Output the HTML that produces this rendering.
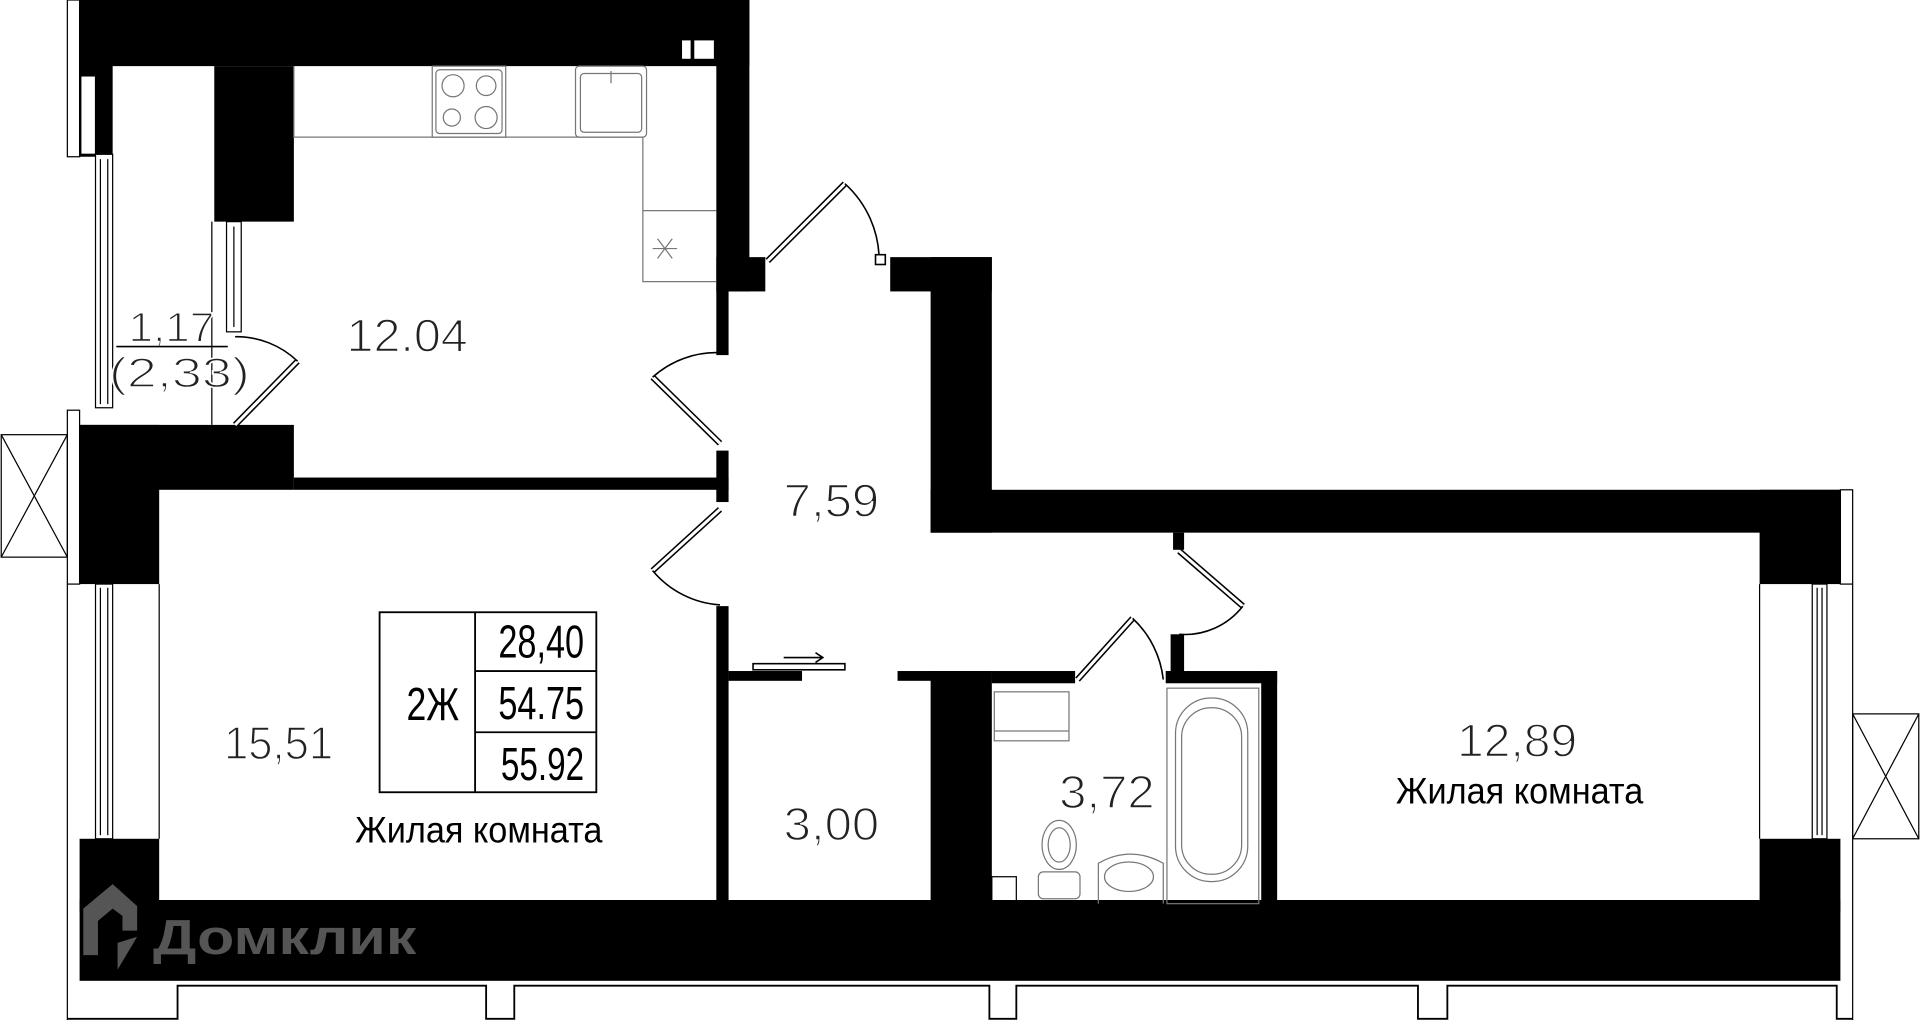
<!DOCTYPE html>
<html><head><meta charset="utf-8"><style>
html,body{margin:0;padding:0;background:#fff;width:1920px;height:1020px;overflow:hidden}
svg{display:block}
text{font-family:"Liberation Sans","DejaVu Sans",sans-serif}
</style></head><body>
<svg width="1920" height="1020" viewBox="0 0 1568 833" preserveAspectRatio="none" xmlns="http://www.w3.org/2000/svg">
<rect width="1568" height="833" fill="#fff"/>
<g fill="#000">
<rect x="65" y="0" width="547" height="54"/>
<rect x="65" y="0" width="27" height="128"/>
<rect x="175" y="54" width="65" height="127"/>
<rect x="585" y="0" width="27" height="238"/>
<rect x="585" y="210" width="40" height="28"/>
<rect x="585" y="238" width="10" height="52"/>
<rect x="65" y="347" width="175" height="53"/>
<rect x="65" y="347" width="65" height="130"/>
<rect x="240" y="390" width="355" height="10"/>
<rect x="585" y="368" width="10" height="42"/>
<rect x="585" y="495" width="10" height="240"/>
<rect x="65" y="685" width="65" height="60"/>
<rect x="65" y="735" width="1438" height="66"/>
<rect x="727" y="210" width="83" height="28"/>
<rect x="760" y="210" width="50" height="225"/>
<rect x="760" y="400" width="743" height="35"/>
<rect x="1437" y="400" width="66" height="77"/>
<rect x="1437" y="685" width="66" height="60"/>
<rect x="595" y="548" width="60" height="8"/>
<rect x="733" y="548" width="77" height="8"/>
<rect x="760" y="548" width="50" height="190"/>
<rect x="810" y="548" width="68" height="10"/>
<rect x="952" y="548" width="91" height="10"/>
<rect x="1030" y="548" width="13" height="190"/>
<rect x="956" y="518" width="11" height="32"/>
<rect x="958" y="435" width="9" height="14"/>
</g>
<rect x="557" y="33" width="7" height="15" fill="#fff"/><rect x="567" y="33" width="16" height="15" fill="#fff"/>
<g fill="#fff" stroke="#000" stroke-width="1">
<rect x="55" y="0" width="10" height="128"/>
<rect x="66" y="62" width="12" height="64"/>
<rect x="78" y="126" width="14" height="207"/>
<rect x="55" y="335" width="10" height="142"/>
<rect x="78" y="477" width="14" height="208"/>
<rect x="1503" y="400" width="10" height="77"/>
<rect x="1480" y="477" width="12" height="208"/>
<rect x="185" y="181" width="12" height="90"/>
</g>
<g stroke="#000" stroke-width="1" fill="none">
<line x1="55" y1="477" x2="55" y2="833"/><line x1="130" y1="477" x2="130" y2="685"/>
<line x1="82" y1="130" x2="82" y2="330"/><line x1="88" y1="130" x2="88" y2="330"/>
<line x1="82" y1="480" x2="82" y2="682"/><line x1="88" y1="480" x2="88" y2="682"/>
<line x1="1484" y1="480" x2="1484" y2="682"/><line x1="1488" y1="480" x2="1488" y2="682"/>
<line x1="1437" y1="477" x2="1437" y2="685"/><line x1="1513" y1="477" x2="1513" y2="833"/>
<line x1="173" y1="181" x2="173" y2="347"/><line x1="191" y1="185" x2="191" y2="267"/>
<rect x="1" y="355" width="54" height="100"/><line x1="1" y1="355" x2="55" y2="455"/><line x1="55" y1="355" x2="1" y2="455"/>
<rect x="1513" y="583" width="54" height="102"/><line x1="1513" y1="583" x2="1567" y2="685"/><line x1="1567" y1="583" x2="1513" y2="685"/>
<path d="M55 832 H145 V805 H397 V832 H420 V805 H808 V832 H830 V805 H1158 V832 H1182 V805 H1500 V832 H1513" stroke-width="1.5"/>
</g>
<g stroke="#777" stroke-width="1" fill="none">
<path d="M240 54 V112 H525 V230 H585"/>
<line x1="525" y1="172" x2="585" y2="172"/>
<rect x="353" y="54" width="60" height="58"/>
<rect x="356" y="57" width="54" height="52" rx="3"/>
<circle cx="370" cy="70" r="9"/><circle cx="397" cy="70" r="8"/><circle cx="369" cy="96" r="7"/><circle cx="397" cy="96" r="9"/>
<rect x="470" y="54" width="58" height="58" rx="3"/>
<rect x="474" y="60" width="50" height="48" rx="3"/>
<line x1="499" y1="58" x2="499" y2="68"/>
<path d="M533 203 H553 M537 195 L549 211 M549 195 L537 211"/>
</g>
<g stroke="#000" stroke-width="1.3" fill="#fff">
<path d="M627 213 L690 150" stroke-width="5"/><path d="M627 213 L690 150" stroke="#fff" stroke-width="2.5"/>
<path d="M690 150 A85 85 0 0 1 718 213" fill="none"/>
<rect x="715" y="208" width="8" height="8"/>
<path d="M588 362 L533 308" stroke-width="5"/><path d="M588 362 L533 308" stroke="#fff" stroke-width="2.5"/>
<path d="M533 308 A78 78 0 0 1 588 288" fill="none"/>
<path d="M588 416 L533 466" stroke-width="5"/><path d="M588 416 L533 466" stroke="#fff" stroke-width="2.5"/>
<path d="M533 466 A78 78 0 0 0 588 494" fill="none"/>
<path d="M192 347 L243 295" stroke-width="5"/><path d="M192 347 L243 295" stroke="#fff" stroke-width="2.5"/>
<path d="M243 295 A72 72 0 0 0 192 275" fill="none"/>
<path d="M963 450 L1015 495" stroke-width="5"/><path d="M963 450 L1015 495" stroke="#fff" stroke-width="2.5"/>
<path d="M1015 495 A60 60 0 0 1 963 518" fill="none"/>
<path d="M880 555 L925 505" stroke-width="5"/><path d="M880 555 L925 505" stroke="#fff" stroke-width="2.5"/>
<path d="M925 505 A80 80 0 0 1 950 555" fill="none"/>
<rect x="615" y="542" width="75" height="5"/>
</g>
<path d="M640 537 H672 M666 533 L672 537 L666 541" stroke="#000" stroke-width="1.3" fill="none"/>
<g stroke="#777" stroke-width="1" fill="none">
<rect x="812" y="565" width="61" height="40"/><line x1="812" y1="597" x2="873" y2="597"/>
<rect x="953" y="562" width="75" height="176"/>
<rect x="960" y="570" width="59" height="150" rx="29"/>
<rect x="965" y="578" width="49" height="136" rx="24"/>
<ellipse cx="865" cy="690" rx="14" ry="20"/><ellipse cx="865" cy="690" rx="9" ry="14"/>
<rect x="848" y="712" width="34" height="22" rx="4"/>
<path d="M897 738 V705 Q923 690 950 705 V738"/><ellipse cx="922" cy="716" rx="20" ry="12"/>
<rect x="810" y="716" width="20" height="20" stroke="#000"/>
</g>
<g stroke="#000" stroke-width="1.5" fill="none">
<rect x="310" y="500" width="177" height="147"/>
<line x1="388" y1="500" x2="388" y2="647"/>
<line x1="388" y1="548" x2="487" y2="548"/>
<line x1="388" y1="598" x2="487" y2="598"/>
</g>
<g fill="#000">
<text x="332" y="588" font-size="38" textLength="43" lengthAdjust="spacingAndGlyphs">2Ж</text>
<text x="407" y="537" font-size="38" textLength="70" lengthAdjust="spacingAndGlyphs">28,40</text>
<text x="407" y="587" font-size="38" textLength="70" lengthAdjust="spacingAndGlyphs">54.75</text>
<text x="409" y="637" font-size="38" textLength="68" lengthAdjust="spacingAndGlyphs">55.92</text>
<text x="290" y="688" font-size="30" textLength="202" lengthAdjust="spacingAndGlyphs">Жилая комната</text>
<text x="1140" y="656" font-size="30" textLength="202" lengthAdjust="spacingAndGlyphs">Жилая комната</text>
</g>
<g fill="#222" stroke="#fff" stroke-width="1.2">
<text x="105" y="279" font-size="34" textLength="70" lengthAdjust="spacingAndGlyphs">1,17</text>
<text x="89" y="316" font-size="34" textLength="115" lengthAdjust="spacingAndGlyphs">(2,33)</text>
<text x="283" y="287" font-size="38" textLength="99" lengthAdjust="spacingAndGlyphs">12.04</text>
<text x="640" y="422" font-size="38" textLength="78" lengthAdjust="spacingAndGlyphs">7,59</text>
<text x="183" y="620" font-size="38" textLength="89" lengthAdjust="spacingAndGlyphs">15,51</text>
<text x="640" y="686" font-size="38" textLength="78" lengthAdjust="spacingAndGlyphs">3,00</text>
<text x="865" y="660" font-size="38" textLength="78" lengthAdjust="spacingAndGlyphs">3,72</text>
<text x="1190" y="618" font-size="38" textLength="98" lengthAdjust="spacingAndGlyphs">12,89</text>
</g>
<line x1="95" y1="283" x2="186" y2="283" stroke="#000" stroke-width="1.3"/>
<g fill="#555">
<path d="M68 742 L92 722 L112 740 V760 L100 760 V748 L92 742 L80 752 V780 L68 780 Z"/>
<path d="M112 765 L96 792 V770 Z"/>
<text x="125" y="779" font-size="40" font-weight="bold" textLength="215" lengthAdjust="spacingAndGlyphs">Домклик</text>
</g>
</svg>
</body></html>
